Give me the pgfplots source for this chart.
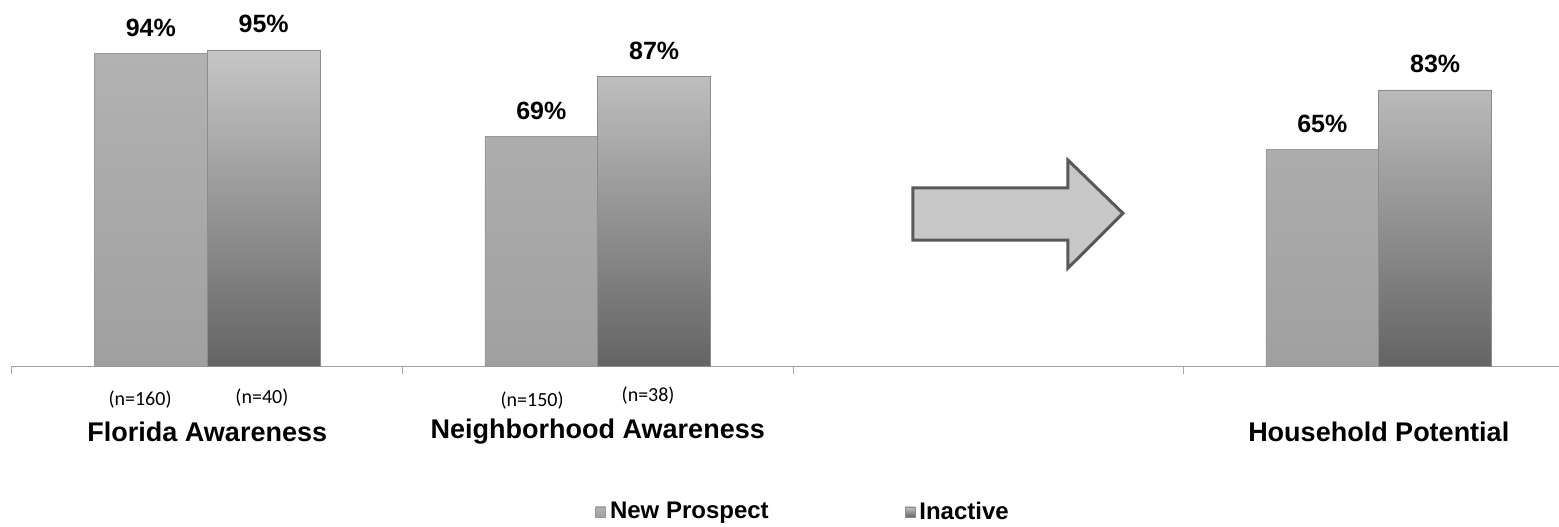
\documentclass[border=0pt]{standalone}
\usepackage{pgfplots}
\pgfplotsset{compat=1.18}
\usepackage{fontspec}
\setmainfont{Liberation Sans}
\newfontfamily\calibri{Carlito}
\definecolor{npTop}{HTML}{B2B2B2}
\definecolor{npBot}{HTML}{A0A0A0}
\definecolor{inTop}{HTML}{C6C6C6}
\definecolor{inBot}{HTML}{646464}
\begin{document}
\begin{tikzpicture}
\useasboundingbox (-6pt,-80pt) rectangle (773.5pt,183pt);
\begin{axis}[
  scale only axis, width=773.5pt, height=183pt,
  xmin=-0.5, xmax=3.4616, ymin=0, ymax=110,
  axis x line=bottom, axis y line=none,
  x axis line style={-, gray!75, line width=0.5pt},
  xtick={-0.5,0.5,1.5,2.5}, xticklabels={},
  tick align=outside, major tick length=4pt,
  tick style={gray!70, line width=0.5pt},
  ytick=\empty,
  ybar=0pt, bar width=0.289,
  clip=false,
  /pgf/number format/assume math mode=true,
  nodes near coords={\pgfmathprintnumber{\pgfplotspointmeta}\%},
  nodes near coords style={font=\bfseries\fontsize{12.5}{14}\selectfont, text=black, yshift=5pt},
  legend style={at={(0.512,-0.399)}, anchor=center, draw=none, fill=none,
    legend columns=2, font=\bfseries\fontsize{12}{14}\selectfont,
    /tikz/every even column/.append style={column sep=66pt}},
  legend cell align=left,
]
\addplot[draw=black!40, line width=0.3pt, top color=npTop, bottom color=npBot,
  legend image code/.code={\fill[top color=npTop, bottom color=npBot] (0pt,-2.6pt) rectangle (5pt,2.6pt);}]
  coordinates {(0,94) (1,69) (3,65)};
\addplot[draw=black!45, line width=0.3pt, top color=inTop, bottom color=inBot,
  legend image code/.code={\fill[top color=inTop, bottom color=inBot] (0pt,-2.6pt) rectangle (5pt,2.6pt);}]
  coordinates {(0,95) (1,87) (3,83)};
\legend{New Prospect, Inactive}
\node[font=\calibri\fontsize{10}{12}\selectfont] at (axis cs:-0.172,-10.2) {(n=160)};
\node[font=\calibri\fontsize{10}{12}\selectfont] at (axis cs:0.140,-9.6) {(n=40)};
\node[font=\calibri\fontsize{10}{12}\selectfont] at (axis cs:0.832,-10.5) {(n=150)};
\node[font=\calibri\fontsize{10}{12}\selectfont] at (axis cs:1.129,-9.0) {(n=38)};
\node[font=\bfseries\fontsize{13.5}{16}\selectfont] at (axis cs:0,-19.8) {Florida Awareness};
\node[font=\bfseries\fontsize{13.5}{16}\selectfont] at (axis cs:1,-19.8) {Neighborhood Awareness};
\node[font=\bfseries\fontsize{13.5}{16}\selectfont] at (axis cs:3,-19.8) {Household Potential};
\draw[line width=1.5pt, draw=black!65, fill=black!22, line join=miter]
  (axis cs:1.807,53.5) -- (axis cs:2.204,53.5) -- (axis cs:2.204,61.9) --
  (axis cs:2.345,45.9) -- (axis cs:2.204,29.4) -- (axis cs:2.204,37.8) --
  (axis cs:1.807,37.8) -- cycle;
\end{axis}
\end{tikzpicture}
\end{document}
